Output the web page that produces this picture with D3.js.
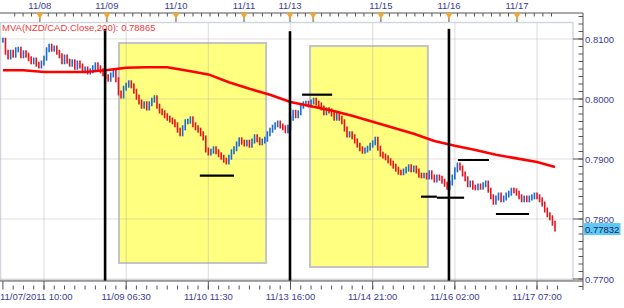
<!DOCTYPE html>
<html>
<head>
<meta charset="utf-8">
<script src="https://cdn.jsdelivr.net/npm/d3@7"></script>
<style>
  body { margin: 0; background: #fff; }
  svg text { font-family: "Liberation Sans", Arial, sans-serif; font-size: 9.5px; }
</style>
</head>
<body>
<div class="chartContainer"></div>
<script>
  // NZD/CAD closes, one per bar
  var closes = [
    0.8098, 0.8078, 0.8070, 0.8078, 0.8073, 0.8082, 0.8083, 0.8072, 0.8077, 0.8073, 0.8067, 0.8062,
    0.8065, 0.8058, 0.8055, 0.8060, 0.8068, 0.8082, 0.8088, 0.8083, 0.8085, 0.8078, 0.8072, 0.8062,
    0.8070, 0.8063, 0.8058, 0.8062, 0.8053, 0.8060, 0.8055, 0.8048, 0.8050, 0.8045, 0.8047, 0.8052,
    0.8057, 0.8052, 0.8047, 0.8042, 0.8037, 0.8033, 0.8040, 0.8045, 0.8032, 0.8010, 0.8005, 0.8018,
    0.8023, 0.8027, 0.8022, 0.8013, 0.8003, 0.7995, 0.7988, 0.7992, 0.7985, 0.7992, 0.7998, 0.8002,
    0.7988, 0.7980, 0.7977, 0.7972, 0.7968, 0.7965, 0.7962, 0.7957, 0.7948, 0.7942, 0.7952, 0.7962,
    0.7963, 0.7967, 0.7957, 0.7952, 0.7948, 0.7942, 0.7935, 0.7915, 0.7910, 0.7913, 0.7917, 0.7912,
    0.7907, 0.7903, 0.7898, 0.7895, 0.7903, 0.7912, 0.7917, 0.7925, 0.7932, 0.7928, 0.7925, 0.7928,
    0.7923, 0.7930, 0.7937, 0.7932, 0.7927, 0.7930, 0.7933, 0.7942, 0.7948, 0.7953, 0.7957, 0.7960,
    0.7955, 0.7952, 0.7947, 0.7953, 0.7968, 0.7978, 0.7972, 0.7977, 0.7988, 0.7992, 0.7993, 0.7990,
    0.7995, 0.7998, 0.7993, 0.7990, 0.7985, 0.7977, 0.7982, 0.7980, 0.7975, 0.7968, 0.7973, 0.7968,
    0.7962, 0.7950, 0.7940, 0.7942, 0.7937, 0.7930, 0.7923, 0.7917, 0.7913, 0.7915, 0.7918, 0.7923,
    0.7927, 0.7933, 0.7918, 0.7908, 0.7905, 0.7902, 0.7897, 0.7893, 0.7888, 0.7883, 0.7878, 0.7877,
    0.7880, 0.7883, 0.7887, 0.7882, 0.7885, 0.7880, 0.7873, 0.7872, 0.7873, 0.7870, 0.7877, 0.7870,
    0.7865, 0.7870, 0.7868, 0.7863, 0.7858, 0.7853, 0.7860, 0.7870, 0.7882, 0.7890, 0.7885, 0.7875,
    0.7867, 0.7857, 0.7860, 0.7853, 0.7852, 0.7855, 0.7853, 0.7857, 0.7860, 0.7848, 0.7837, 0.7828,
    0.7835, 0.7840, 0.7832, 0.7835, 0.7840, 0.7843, 0.7848, 0.7847, 0.7843, 0.7837, 0.7832, 0.7835,
    0.7832, 0.7835, 0.7837, 0.7840, 0.7837, 0.7832, 0.7825, 0.7815, 0.7807, 0.7802, 0.7793, 0.77832
  ];

  // 200 period moving average, read every 8 bars
  var maIndex = [0, 8, 16, 24, 32, 40, 48, 56, 64, 72, 80, 88, 96, 104, 112, 120, 128, 136, 144, 152, 160, 168, 176, 184, 192, 200, 208, 215];
  var maValues = [0.8048, 0.8048, 0.8045, 0.8045, 0.8045, 0.8048, 0.8052, 0.8053, 0.8053, 0.8047, 0.8041, 0.8028, 0.8017, 0.8007,
    0.7995, 0.7988, 0.7981, 0.7972, 0.7962, 0.7952, 0.7942, 0.7930, 0.7922, 0.7915, 0.7907, 0.7901, 0.7895, 0.78865];

  // top axis: day boundaries
  var dayIndex = [14.4, 40.5, 67.4, 93.9, 111.8, 120.8, 147.2, 173.7, 200.2];
  var dayLabels = ['11/08', '11/09', '11/10', '11/11', '11/13', '11/14', '11/15', '11/16', '11/17'];

  // bottom axis
  var timeIndex = [0, 16, 48, 80, 112, 144, 176, 208];
  var timeLabels = ['11/07/2011 10:00', '', '11/09 06:30', '11/10 11:30', '11/13 16:00', '11/14 21:00', '11/16 02:00', '11/17 07:00'];

  var priceTicks = [0.77, 0.78, 0.79, 0.80, 0.81];

  // yellow zones
  var zoneStart = [45.2, 119.6];
  var zoneEnd = [102.5, 165.5];
  var zoneHigh = [0.80933, 0.80883];
  var zoneLow = [0.77267, 0.7720];

  // black session lines
  var sessionIndex = [39.8, 111.8, 173.7];
  var sessionTop = [0.8117, 0.8113, 0.8117];
  var sessionBottom = 0.7697;

  // horizontal level marks
  var levelStart = [76.7, 116.5, 162.8, 169.0, 177.2, 192.0];
  var levelEnd = [90.0, 128.2, 169.0, 179.6, 189.3, 204.9];
  var levelValue = [0.78722, 0.80072, 0.78372, 0.78355, 0.78983, 0.78083];

  var red = '#e8121c', blue = '#1b6bd0', axisText = '#3c3c96';

  var svg = d3.select('.chartContainer').append('svg')
    .attr('width', 624)
    .attr('height', 308);

  var x = d3.scaleLinear().domain([0, closes.length - 1]).range([2.9, 555]);
  var y = d3.scaleLinear().domain([0.77, 0.81]).range([279, 39]);

  var plotRight = 573, axisX = 583, topAxisY = 13, bottomAxisY = 281;

  // plot frame
  svg.append('rect')
    .attr('x', 0.5).attr('y', 22.5)
    .attr('width', plotRight - 0.5).attr('height', 257.5)
    .attr('fill', '#fff')
    .attr('stroke', '#d2d6de')
    .attr('stroke-width', 1.5);

  // yellow zones
  svg.append('g').selectAll('rect')
    .data(zoneStart)
    .join('rect')
    .attr('x', function(d){ return x(d); })
    .attr('y', function(d, i){ return y(zoneHigh[i]); })
    .attr('width', function(d, i){ return x(zoneEnd[i]) - x(d); })
    .attr('height', function(d, i){ return y(zoneLow[i]) - y(zoneHigh[i]); })
    .attr('fill', '#ffff80')
    .attr('stroke', '#c4c4c4')
    .attr('stroke-width', 2);

  // grid
  var grid = svg.append('g')
    .attr('stroke', 'rgba(170,170,170,0.35)')
    .attr('stroke-width', 1.2);
  grid.selectAll('.h').data(priceTicks).join('line')
    .attr('x1', 0).attr('x2', plotRight)
    .attr('y1', function(d){ return y(d); })
    .attr('y2', function(d){ return y(d); });
  grid.selectAll('.v').data(timeIndex.slice(1)).join('line')
    .attr('x1', function(d){ return x(d); })
    .attr('x2', function(d){ return x(d); })
    .attr('y1', 23).attr('y2', 280);

  // price bars: open = previous close
  svg.append('g').selectAll('rect')
    .data(closes)
    .join('rect')
    .attr('x', function(d, i){ return x(i) - 0.8; })
    .attr('width', 1.6)
    .attr('y', function(d, i){
      var o = i ? closes[i - 1] : d;
      return y(Math.max(o, d)) - 2.5;
    })
    .attr('height', function(d, i){
      var o = i ? closes[i - 1] : d;
      return Math.abs(y(o) - y(d)) + 5;
    })
    .attr('fill', function(d, i){
      return (i && d < closes[i - 1]) ? red : blue;
    });

  // moving average
  var ma = maIndex.map(function(d, i){ return [d, maValues[i]]; });
  svg.append('path')
    .datum(ma)
    .attr('d', d3.line().x(function(d){ return x(d[0]); }).y(function(d){ return y(d[1]); }))
    .attr('fill', 'none')
    .attr('stroke', '#f00')
    .attr('stroke-width', 2.6);

  // session lines
  svg.append('g').selectAll('line')
    .data(sessionIndex)
    .join('line')
    .attr('x1', function(d){ return x(d); })
    .attr('x2', function(d){ return x(d); })
    .attr('y1', function(d, i){ return y(sessionTop[i]); })
    .attr('y2', y(sessionBottom))
    .attr('stroke', '#000')
    .attr('stroke-width', 2.6);

  // level marks
  svg.append('g').selectAll('line')
    .data(levelStart)
    .join('line')
    .attr('x1', function(d){ return x(d); })
    .attr('x2', function(d, i){ return x(levelEnd[i]); })
    .attr('y1', function(d, i){ return y(levelValue[i]); })
    .attr('y2', function(d, i){ return y(levelValue[i]); })
    .attr('stroke', '#000')
    .attr('stroke-width', 2.2);

  // legend
  svg.append('text')
    .attr('x', 2).attr('y', 31)
    .attr('fill', '#f03a3a')
    .text('MVA(NZD/CAD.Close,200): ' + d3.format('.5f')(maValues[maValues.length - 1]));

  // top axis
  var topAxis = svg.append('g').attr('stroke', '#555');
  topAxis.append('line')
    .attr('x1', 0).attr('x2', axisX)
    .attr('y1', topAxisY).attr('y2', topAxisY);

  var topMinor = [];
  var bounds = [dayIndex[0] - 3.27 * 4].concat(dayIndex, [closes.length + 1]);
  for(var b = 0; b < bounds.length - 1; b++){
    var n = Math.max(1, Math.round((bounds[b + 1] - bounds[b]) / 3.27));
    for(var k = 1; k < n; k++){
      topMinor.push(bounds[b] + k * (bounds[b + 1] - bounds[b]) / n);
    }
  }
  topAxis.selectAll('.minor').data(topMinor).join('line')
    .attr('x1', function(d){ return x(d); })
    .attr('x2', function(d){ return x(d); })
    .attr('y1', topAxisY).attr('y2', topAxisY + 3.5);

  topAxis.selectAll('.day').data(dayIndex).join('line')
    .attr('x1', function(d){ return x(d); })
    .attr('x2', function(d){ return x(d); })
    .attr('y1', topAxisY).attr('y2', 22);

  svg.append('g').selectAll('path')
    .data(dayIndex)
    .join('path')
    .attr('d', function(d){
      var cx = x(d);
      return 'M' + (cx - 3.5) + ',' + topAxisY + 'L' + (cx + 3.5) + ',' + topAxisY + 'L' + cx + ',' + (topAxisY + 6) + 'Z';
    })
    .attr('fill', '#f5a52a');

  var lastLabelX = -100;
  svg.append('g').selectAll('text')
    .data(dayIndex)
    .join('text')
    .attr('x', function(d){ return x(d); })
    .attr('y', 9)
    .attr('text-anchor', 'middle')
    .attr('fill', axisText)
    .text(function(d, i){
      var px = x(d);
      if(px - lastLabelX < 32){ return ''; }
      lastLabelX = px;
      return dayLabels[i];
    });

  // right axis
  var rightAxis = svg.append('g').attr('stroke', '#555');
  rightAxis.append('line')
    .attr('x1', axisX).attr('x2', axisX)
    .attr('y1', topAxisY).attr('y2', 290);
  var minorPrices = d3.range(0, 37).map(function(k){ return 0.76875 + k * 0.00125; });
  rightAxis.selectAll('.minor').data(minorPrices).join('line')
    .attr('x1', axisX - 4.5).attr('x2', axisX)
    .attr('y1', function(d){ return y(d); })
    .attr('y2', function(d){ return y(d); });
  rightAxis.selectAll('.major').data(priceTicks).join('line')
    .attr('x1', plotRight).attr('x2', axisX)
    .attr('y1', function(d){ return y(d); })
    .attr('y2', function(d){ return y(d); });

  svg.append('g').selectAll('text')
    .data(priceTicks)
    .join('text')
    .attr('x', axisX + 2)
    .attr('y', function(d){ return y(d) + 3.5; })
    .attr('fill', axisText)
    .text(d3.format('.4f'));

  // last price tag
  var last = closes[closes.length - 1];
  svg.append('rect')
    .attr('x', axisX + 0.5).attr('y', y(last) - 6)
    .attr('width', 37).attr('height', 12)
    .attr('fill', '#5bc8f5');
  svg.append('text')
    .attr('x', axisX + 2).attr('y', y(last) + 3.5)
    .attr('fill', '#1c1c50')
    .text(d3.format('.5f')(last));

  // bottom axis
  var bottomAxis = svg.append('g').attr('stroke', '#555');
  bottomAxis.append('line')
    .attr('x1', 0).attr('x2', axisX)
    .attr('y1', bottomAxisY).attr('y2', bottomAxisY);
  bottomAxis.selectAll('.minor').data(d3.range(4, closes.length + 1, 4)).join('line')
    .attr('x1', function(d){ return x(d); })
    .attr('x2', function(d){ return x(d); })
    .attr('y1', bottomAxisY + 4.5).attr('y2', bottomAxisY + 8.5);
  bottomAxis.selectAll('.major').data(timeIndex).join('line')
    .attr('x1', function(d){ return Math.max(1, x(d)); })
    .attr('x2', function(d){ return Math.max(1, x(d)); })
    .attr('y1', bottomAxisY).attr('y2', bottomAxisY + 8.5);

  svg.append('g').selectAll('text')
    .data(timeIndex)
    .join('text')
    .attr('x', function(d, i){ return i === 0 ? 0 : x(d); })
    .attr('y', 300)
    .attr('text-anchor', function(d, i){ return i === 0 ? 'start' : 'middle'; })
    .attr('fill', axisText)
    .text(function(d, i){ return timeLabels[i]; });
</script>
</body>
</html>
